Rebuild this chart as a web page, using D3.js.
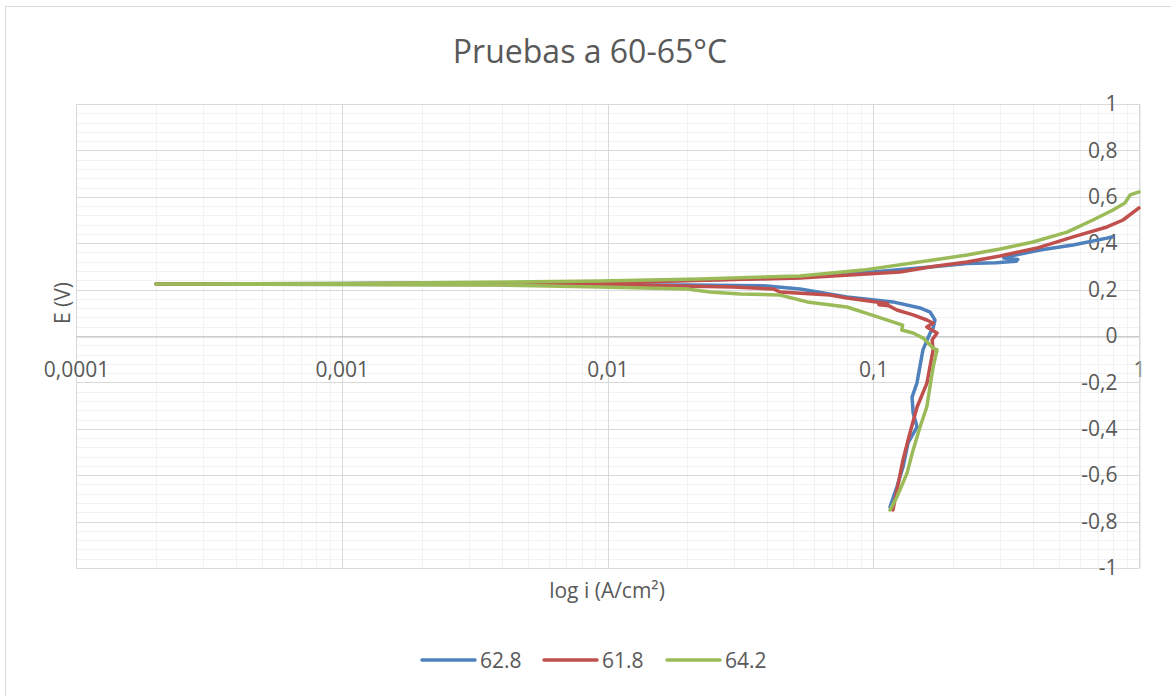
<!DOCTYPE html>
<html>
<head>
<meta charset="utf-8">
<script src="https://cdn.jsdelivr.net/npm/d3@7"></script>
<style>
  body { margin: 0; background: #fff; }
  text { font-family: "Open Sans", "Noto Sans", sans-serif; fill: #595959; }
</style>
</head>
<body>
<script>
// values, [i (A/cm2), E (V)] in scan order
var s628 = [[0.1156,-0.737],[0.1227,-0.651],[0.1294,-0.565],[0.1352,-0.461],[0.1462,-0.392],[0.1413,-0.332],
  [0.140,-0.263],[0.146,-0.203],[0.1538,-0.060],[0.1637,0.013],[0.168,0.034],[0.1707,0.069],[0.1637,0.103],
  [0.150,0.121],[0.1186,0.147],[0.0796,0.168],[0.053,0.203],[0.0398,0.216],[0.02,0.220],[0.005,0.222],
  [0.0002,0.224],[0.001,0.226],[0.01,0.232],[0.053,0.252],[0.0946,0.274],[0.168,0.298],[0.2255,0.312],
  [0.29,0.316],[0.345,0.322],[0.35,0.330],[0.31,0.336],[0.33,0.345],[0.424,0.371],[0.565,0.392],
  [0.758,0.422],[0.79,0.427]];
var s618 = [[0.1186,-0.75],[0.1294,-0.534],[0.1374,-0.418],[0.1462,-0.306],[0.1592,-0.203],[0.168,-0.060],
  [0.1665,-0.017],[0.1738,0.013],[0.159,0.039],[0.168,0.056],[0.159,0.069],[0.1413,0.091],[0.1227,0.112],
  [0.1146,0.130],[0.105,0.135],[0.113,0.140],[0.0796,0.164],[0.0687,0.177],[0.0446,0.190],[0.042,0.203],
  [0.0296,0.211],[0.0094,0.222],[0.001,0.223],[0.0002,0.224],[0.001,0.225],[0.01,0.230],[0.053,0.250],
  [0.126,0.276],[0.168,0.300],[0.2255,0.319],[0.30,0.345],[0.41,0.378],[0.565,0.427],[0.758,0.47],
  [0.871,0.50],[1.0,0.552]];
var s642 = [[0.1156,-0.75],[0.1227,-0.694],[0.134,-0.591],[0.1413,-0.491],[0.150,-0.392],[0.159,-0.306],
  [0.168,-0.134],[0.1738,-0.060],[0.168,-0.052],[0.154,-0.009],[0.1413,0.013],[0.128,0.026],[0.129,0.047],
  [0.1065,0.078],[0.0914,0.103],[0.0796,0.125],[0.0564,0.147],[0.0445,0.177],[0.0316,0.181],[0.0243,0.190],
  [0.0199,0.203],[0.0094,0.211],[0.0039,0.220],[0.0002,0.224],[0.001,0.226],[0.00938,0.237],[0.0223,0.246],
  [0.053,0.259],[0.0914,0.284],[0.168,0.328],[0.2255,0.349],[0.30,0.375],[0.399,0.405],[0.536,0.448],
  [0.671,0.50],[0.798,0.543],[0.885,0.573],[0.926,0.608],[1.0,0.621]];

var seriesNames = ["62.8", "61.8", "64.2"];
var seriesColors = ["#4F81BD", "#C0504D", "#9BBB59"];
var xTicks = [0.0001, 0.001, 0.01, 0.1, 1];
var yTicks = [-1, -0.8, -0.6, -0.4, -0.2, 0, 0.2, 0.4, 0.6, 0.8, 1];

var width = 1171, height = 696;
var svg = d3.select("body").append("svg")
  .attr("width", width)
  .attr("height", height);

// chart border (only left/top visible in the crop)
svg.append("rect")
  .attr("x", 5.5).attr("y", 6.5)
  .attr("width", 1180).attr("height", 710)
  .attr("fill", "#fff").attr("stroke", "#d9d9d9");

var x = d3.scaleLog().domain([0.0001, 1]).range([76, 1139]);
var y = d3.scaleLinear().domain([-1, 1]).range([568, 104]);

var comma = function(d) { return String(+d.toFixed(4)).replace(".", ","); };

// minor grid
var minorX = [];
xTicks.slice(0, -1).forEach(function(t) {
  for (var k = 2; k <= 9; k++) minorX.push(t * k);
});
var minorY = d3.range(-1, 1.0001, 0.04);

var grid = svg.append("g");
grid.selectAll(".mx").data(minorX).enter().append("line")
  .attr("x1", d => Math.round(x(d)) + 0.5).attr("x2", d => Math.round(x(d)) + 0.5)
  .attr("y1", y(1)).attr("y2", y(-1))
  .attr("stroke", "#f2f2f2").attr("stroke-width", 1);
grid.selectAll(".my").data(minorY).enter().append("line")
  .attr("x1", x(0.0001)).attr("x2", x(1))
  .attr("y1", d => Math.round(y(d)) + 0.5).attr("y2", d => Math.round(y(d)) + 0.5)
  .attr("stroke", "#f2f2f2").attr("stroke-width", 1);
// major grid
grid.selectAll(".Mx").data(xTicks).enter().append("line")
  .attr("x1", d => Math.round(x(d)) + 0.5).attr("x2", d => Math.round(x(d)) + 0.5)
  .attr("y1", y(1)).attr("y2", y(-1))
  .attr("stroke", "#d9d9d9").attr("stroke-width", 1);
grid.selectAll(".My").data(yTicks).enter().append("line")
  .attr("x1", x(0.0001)).attr("x2", x(1))
  .attr("y1", d => Math.round(y(d)) + 0.5).attr("y2", d => Math.round(y(d)) + 0.5)
  .attr("stroke", "#d9d9d9").attr("stroke-width", 1);

// x axis crosses at E = 0
var xAxis = d3.axisBottom(x).tickValues(xTicks).tickFormat(comma).tickSize(0).tickPadding(26);
var gx = svg.append("g").attr("transform", "translate(0," + (Math.round(y(0)) + 0.5) + ")").call(xAxis);
gx.select(".domain").attr("stroke", "#bfbfbf");
gx.selectAll("text").attr("font-size", 21).attr("fill", "#595959").attr("font-family", "Open Sans");

// y axis at the right edge (i = 1), labels to its left
var yAxis = d3.axisLeft(y).tickValues(yTicks).tickFormat(comma).tickSize(0).tickPadding(22);
var gy = svg.append("g").attr("transform", "translate(" + (Math.round(x(1)) + 0.5) + ",0)").call(yAxis);
gy.select(".domain").attr("stroke", "#d9d9d9");
gy.selectAll("text").attr("font-size", 21).attr("fill", "#595959").attr("font-family", "Open Sans");

// series
var line = d3.line().x(d => x(d[0])).y(d => y(d[1]));
[s628, s618, s642].forEach(function(s, i) {
  svg.append("path").datum(s)
    .attr("d", line)
    .attr("fill", "none")
    .attr("stroke", seriesColors[i])
    .attr("stroke-width", 3.5)
    .attr("stroke-linejoin", "round")
    .attr("stroke-linecap", "round");
});

// titles
svg.append("text").attr("x", 590).attr("y", 63).attr("text-anchor", "middle")
  .attr("font-size", 32).text("Pruebas a 60-65°C");
svg.append("text").attr("x", 607).attr("y", 598).attr("text-anchor", "middle")
  .attr("font-size", 21).text("log i (A/cm²)");
svg.append("text").attr("transform", "translate(70,303) rotate(-90)").attr("text-anchor", "middle")
  .attr("font-size", 21).text("E (V)");

// legend
var legX = [422, 544, 667];
var leg = svg.append("g").selectAll("g").data(seriesNames).enter().append("g")
  .attr("transform", (d, i) => "translate(" + legX[i] + ",660)");
leg.append("line").attr("x1", 0).attr("x2", 53).attr("y1", 0).attr("y2", 0)
  .attr("stroke", (d, i) => seriesColors[i]).attr("stroke-width", 3.5).attr("stroke-linecap", "round");
leg.append("text").attr("x", 58).attr("y", 8).attr("font-size", 21).text(d => d);
</script>
</body>
</html>
